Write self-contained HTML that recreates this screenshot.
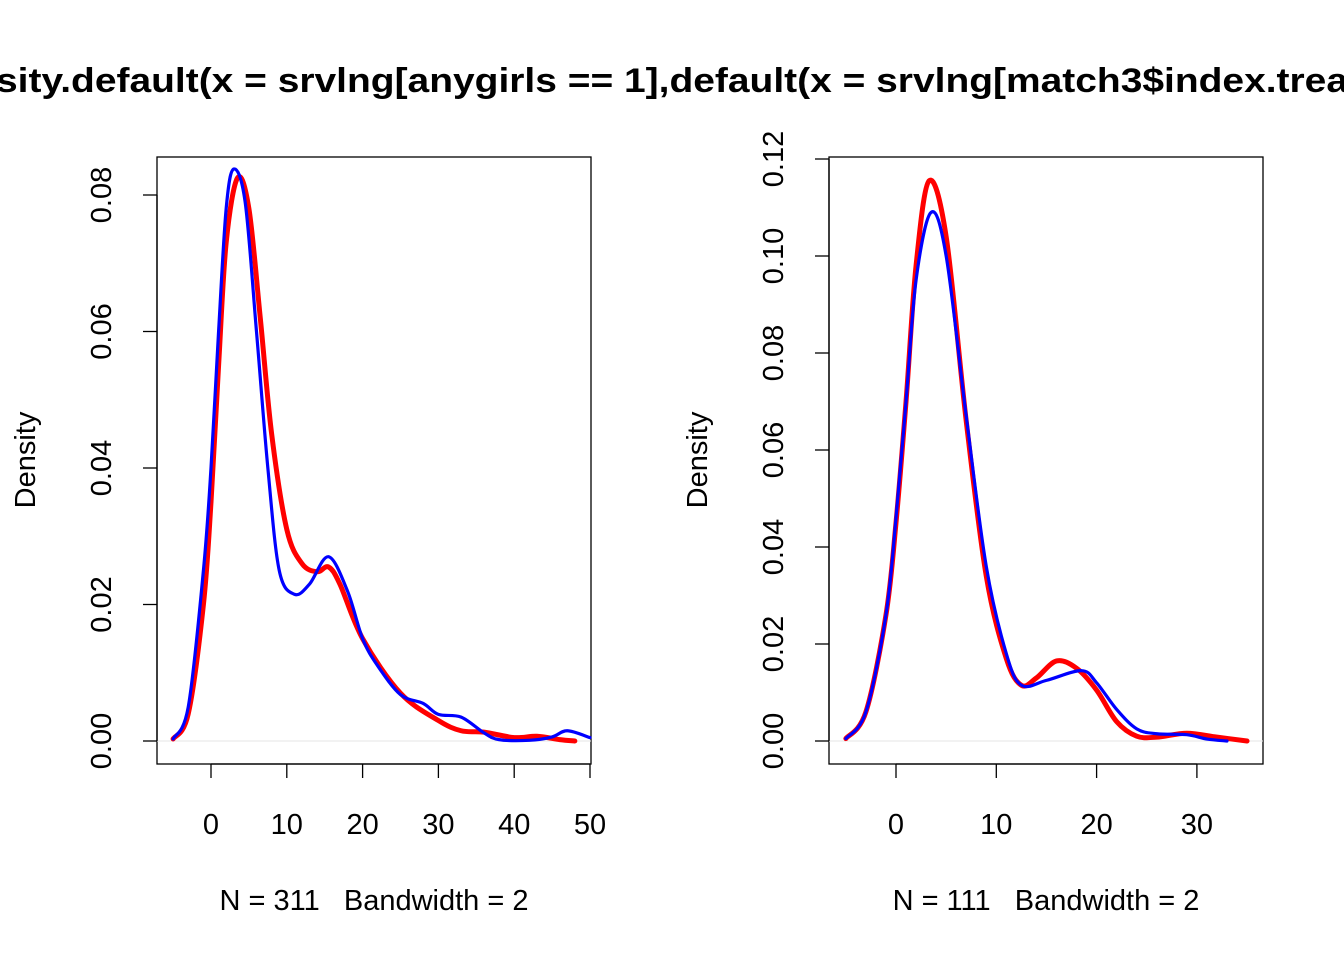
<!DOCTYPE html>
<html><head><meta charset="utf-8"><style>body{margin:0;background:#fff}svg{display:block;font-family:"Liberation Sans",Arial,sans-serif}text{white-space:pre}</style></head>
<body>
<svg id="chart" width="1344" height="960" viewBox="0 0 1344 960">
<text x="-4" y="92" font-size="34" font-weight="bold" textLength="1352" lengthAdjust="spacingAndGlyphs">sity.default(x = srvlng[anygirls == 1],default(x = srvlng[match3$index.trea</text>
</svg>
<script>
const leftRedX=[-5,-3,-1,0,1,2,3.5,5,6.5,8,10,12,14,15.5,17,20,25,30,33,36,40,43,46,48];
const leftRedY=[0.0003,0.004,0.02,0.035,0.055,0.073,0.0825,0.078,0.062,0.045,0.031,0.026,0.0248,0.0255,0.023,0.015,0.007,0.003,0.0015,0.0013,0.0005,0.0007,0.0002,0.0];
const leftBlueX=[-5,-3,-1,0,1,2,3,4.5,6,7.5,9,11,13,15.5,18,20,22,25,28,30,33,36,38,42,45,47,50];
const leftBlueY=[0.0003,0.005,0.025,0.04,0.06,0.078,0.0838,0.079,0.06,0.04,0.025,0.0215,0.023,0.027,0.022,0.015,0.011,0.0068,0.0055,0.0039,0.0035,0.0012,0.0002,0.0001,0.0006,0.0015,0.0005];
const rightRedX=[-5,-3,-1,0,1,2,3.3,5,7,9,11,12.5,14,16,18,20,22,24,26,29,32,35];
const rightRedY=[0.0005,0.006,0.026,0.045,0.07,0.098,0.1155,0.104,0.066,0.034,0.017,0.0115,0.013,0.0165,0.015,0.0105,0.004,0.001,0.0008,0.0016,0.0008,0.0];
const rightBlueX=[-5,-3,-1,0,1,2,3.5,5,7,9,11,12.5,15,18.5,20,22,24,26,29,31,33];
const rightBlueY=[0.0005,0.006,0.026,0.046,0.07,0.095,0.109,0.1,0.067,0.036,0.018,0.0115,0.0125,0.0145,0.012,0.0065,0.0025,0.0015,0.0013,0.0004,0.0];
const leftXTicks=[0,10,20,30,40,50], leftYTicks=[0,0.02,0.04,0.06,0.08];
const rightXTicks=[0,10,20,30], rightYTicks=[0,0.02,0.04,0.06,0.08,0.10,0.12];
const leftSub="N = 311   Bandwidth = 2", rightSub="N = 111   Bandwidth = 2";
const svg=document.getElementById('chart');const NS="http://www.w3.org/2000/svg";
function mk(t,a,txt){const e=document.createElementNS(NS,t);for(const k in a)e.setAttribute(k,a[k]);if(txt!=null)e.textContent=txt;svg.appendChild(e);return e;}
function path(pts){let d=`M${pts[0][0]},${pts[0][1]}`;for(let i=0;i<pts.length-1;i++){const p0=pts[Math.max(i-1,0)],p1=pts[i],p2=pts[i+1],p3=pts[Math.min(i+2,pts.length-1)];d+=`C${p1[0]+(p2[0]-p0[0])/6},${p1[1]+(p2[1]-p0[1])/6} ${p2[0]-(p3[0]-p1[0])/6},${p2[1]-(p3[1]-p1[1])/6} ${p2[0]},${p2[1]}`;}return d;}
function panel(o){
const sx=v=>o.x0+(v-o.xa)*o.kx, sy=v=>741-v*o.ky;
let e=mk('rect',{x:o.bx,y:157,width:434,height:607,fill:'none',stroke:'#000','stroke-width':1.3});

e=mk('line',{x1:o.bx,x2:o.bx+434,y1:741,y2:741,stroke:'#e6e6e6','stroke-width':1});

const xt=o.xt;
e=mk('line',{x1:sx(xt[0]),x2:sx(xt[xt.length-1]),y1:764,y2:764,stroke:'#000','stroke-width':1.3});

xt.forEach(v=>{mk('line',{x1:sx(v),x2:sx(v),y1:764,y2:778,stroke:'#000','stroke-width':1.3});
e=mk('text',{x:sx(v),y:834,'font-size':29,'text-anchor':'middle'},String(v));
});
const yt=o.yt;
e=mk('line',{x1:o.bx,x2:o.bx,y1:sy(yt[0]),y2:sy(yt[yt.length-1]),stroke:'#000','stroke-width':1.3});

yt.forEach(v=>{mk('line',{x1:o.bx,x2:o.bx-14,y1:sy(v),y2:sy(v),stroke:'#000','stroke-width':1.3});
e=mk('text',{x:0,y:0,'font-size':29,'text-anchor':'middle',transform:`translate(${o.bx-46},${sy(v)}) rotate(-90)`},v.toFixed(2));
});
e=mk('text',{x:0,y:0,'font-size':29,'text-anchor':'middle',transform:`translate(${o.bx-122},460) rotate(-90)`},'Density');

e=mk('text',{x:o.bx+217,y:910,'font-size':29,'text-anchor':'middle','xml:space':'preserve'},o.sub);

e=mk('path',{d:path(o.rx.map((x,i)=>[sx(x),sy(o.ry[i])])),fill:'none',stroke:'#ff0000','stroke-width':5,'stroke-linecap':'round'});

e=mk('path',{d:path(o.blx.map((x,i)=>[sx(x),sy(o.bly[i])])),fill:'none',stroke:'#0000ff','stroke-width':3.2,'stroke-linecap':'round'});

}
panel({n:'left',bx:157,x0:211,xa:0,kx:7.58,ky:6825,xt:leftXTicks,yt:leftYTicks,sub:leftSub,rx:leftRedX,ry:leftRedY,blx:leftBlueX,bly:leftBlueY});
panel({n:'right',bx:829,x0:896,xa:0,kx:10.03,ky:4850,xt:rightXTicks,yt:rightYTicks,sub:rightSub,rx:rightRedX,ry:rightRedY,blx:rightBlueX,bly:rightBlueY});
</script>
</body></html>
